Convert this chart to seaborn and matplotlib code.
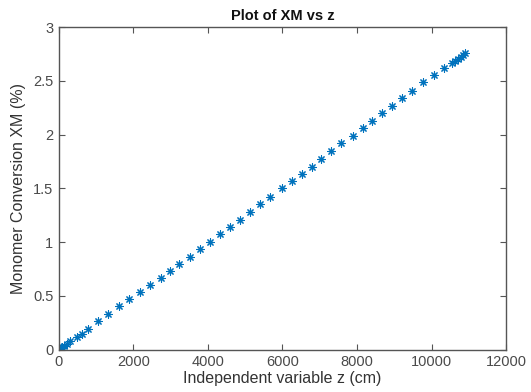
import matplotlib
matplotlib.use("Agg")
import matplotlib.pyplot as plt
import seaborn as sns
import pandas as pd
from matplotlib.ticker import FixedLocator, FixedFormatter

# data
z_cm = [0, 20, 50, 90, 140, 210, 295, 483, 617, 779, 1047, 1315, 1611, 1879,
        2174, 2443, 2738, 2980, 3221, 3517, 3785, 4054, 4322, 4591, 4859,
        5128, 5396, 5664, 5987, 6255, 6523, 6792, 7034, 7302, 7570, 7893,
        8161, 8403, 8671, 8940, 9208, 9477, 9772, 10067, 10336, 10550,
        10631, 10711, 10792, 10846, 10899]
xm_pct = [0.0, 0.005, 0.013, 0.024, 0.038, 0.056, 0.079, 0.116, 0.150, 0.191,
          0.265, 0.335, 0.405, 0.470, 0.540, 0.600, 0.670, 0.735, 0.800,
          0.865, 0.935, 1.005, 1.072, 1.140, 1.210, 1.279, 1.350, 1.422,
          1.502, 1.567, 1.633, 1.700, 1.772, 1.845, 1.918, 1.990, 2.058,
          2.126, 2.197, 2.270, 2.338, 2.405, 2.485, 2.550, 2.620, 2.665,
          2.684, 2.705, 2.725, 2.742, 2.755]
x_ticks = [0, 2000, 4000, 6000, 8000, 10000, 12000]
x_tick_labels = ["0", "2000", "4000", "6000", "8000", "10000", "12000"]
y_ticks = [0, 0.5, 1, 1.5, 2, 2.5, 3]
y_tick_labels = ["0", "0.5", "1", "1.5", "2", "2.5", "3"]

df = pd.DataFrame({"z": z_cm, "XM": xm_pct})

sns.set_style("white")
plt.rcParams["font.family"] = ["Liberation Sans", "DejaVu Sans"]

fig = plt.figure(figsize=(5.31, 3.92), dpi=100)
ax = fig.add_axes([0.111, 0.108, 0.842, 0.823])

sns.scatterplot(data=df, x="z", y="XM", ax=ax, marker=(8, 2, 0),
                color="#0072BD", s=28, linewidth=0.8, legend=False)

ax.set_xlim(0, 12000)
ax.set_ylim(0, 3)
ax.xaxis.set_major_locator(FixedLocator(x_ticks))
ax.xaxis.set_major_formatter(FixedFormatter(x_tick_labels))
ax.yaxis.set_major_locator(FixedLocator(y_ticks))
ax.yaxis.set_major_formatter(FixedFormatter(y_tick_labels))

axis_col = "#555555"
for sp in ax.spines.values():
    sp.set_visible(True)
    sp.set_color(axis_col)
    sp.set_linewidth(1.0)
ax.tick_params(direction="in", length=4, width=0.8, color=axis_col,
               labelcolor="#4a4a4a", labelsize=10.5, top=True, right=True,
               bottom=True, left=True, pad=4)

ax.set_xlabel("Independent variable z (cm)", fontsize=11.5, color="#333333", labelpad=1)
ax.set_ylabel("Monomer Conversion XM (%)", fontsize=11.5, color="#333333", labelpad=5)
ax.set_title("Plot of XM vs z", fontsize=10.5, fontweight="bold", color="#111111", pad=5)

fig.savefig("out.png", dpi=100)
